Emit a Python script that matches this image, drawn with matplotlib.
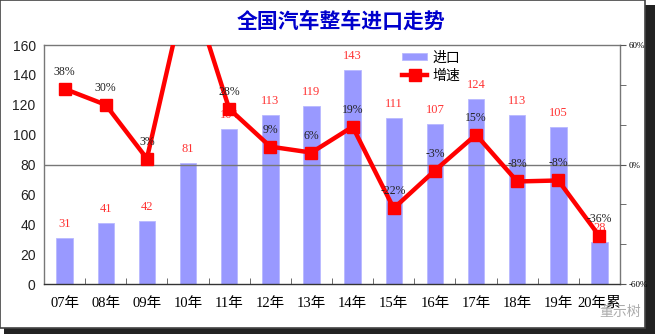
import matplotlib
matplotlib.use("Agg")
import matplotlib.pyplot as plt
from matplotlib.patches import Rectangle
import numpy as np

categories = ["07年", "08年", "09年", "10年", "11年", "12年", "13年", "14年",
              "15年", "16年", "17年", "18年", "19年", "20年累"]
imports = [31, 41, 42, 81, 104, 113, 119, 143, 111, 107, 124, 113, 105, 28]
growth = [38, 30, 3, 93, 28, 9, 6, 19, -22, -3, 15, -8.5, -8, -36]
growth_labels = ["38%", "30%", "3%", "93%", "28%", "9%", "6%", "19%", "-22%",
                 "-3%", "15%", "-8%", "-8%", "-36%"]
title = "全国汽车整车进口走势"

CJK = ["Noto Sans CJK SC", "DejaVu Sans"]
SERIF = ["Liberation Serif", "Noto Sans CJK SC"]
plt.rcParams["font.family"] = CJK

fig = plt.figure(figsize=(6.55, 3.34), dpi=100)
# frame with shadow
fig.patches.append(Rectangle((0.006, 0.0), 0.994, 0.985, transform=fig.transFigure,
                             facecolor="#222222", edgecolor="none", zorder=-3))
fig.patches.append(Rectangle((0.0, 0.018), 0.985, 0.982, transform=fig.transFigure,
                             facecolor="white", edgecolor="#444444", linewidth=1.2, zorder=-2))

ax = fig.add_axes([0.0672, 0.1497, 0.8794, 0.7153])
ax.set_facecolor("none")
x = np.arange(len(categories))
ax.bar(x, imports, width=0.4, color="#9999FF", edgecolor="#B8B8FF", linewidth=0.6,
       label="进口", zorder=2)
ax.set_xlim(-0.5, len(categories) - 0.5)
ax.set_ylim(0, 160)
ax.set_yticks(range(0, 161, 20))
ax.tick_params(axis="y", labelsize=10, length=0, pad=6)
for t in ax.get_yticklabels():
    t.set_fontfamily(["Liberation Sans", "DejaVu Sans"])
    t.set_color("#222222")
ax.set_xticks(x)
ax.set_xticklabels(categories, fontfamily=SERIF, fontsize=10.5)
ax.tick_params(axis="x", length=0, pad=9)
ax.set_xticks(np.arange(-0.5, len(categories), 1), minor=True)
ax.tick_params(axis="x", which="minor", length=4, direction="in", color="#555555")
for s in ax.spines.values():
    s.set_color("#777777")
    s.set_linewidth(1.0)
ax.spines["bottom"].set_color("#333333")

for xi, v in zip(x, imports):
    ax.annotate(str(v), (xi, v), xytext=(0, 14), textcoords="offset pixels",
                ha="center", va="center", color="#FF3333", fontsize=9,
                fontfamily=SERIF, annotation_clip=True)

ax2 = ax.twinx()
ax2.set_ylim(-60, 60)
ax2.axhline(0, color="#777777", linewidth=1.0, zorder=1)
ax2.plot(x, growth, color="#FF0000", linewidth=3.2, marker="s", markersize=8.5,
         label="增速", zorder=3, clip_on=True)
ax2.set_yticks([-60, 0, 60])
ax2.set_yticklabels(["-60%", "0%", "60%"], fontsize=6.5,
                    fontfamily=["Liberation Serif", "DejaVu Sans"])
ax2.set_yticks(np.arange(-60, 61, 20), minor=True)
ax2.tick_params(axis="y", which="both", length=4, direction="out", color="#555555", pad=2)
for s in ax2.spines.values():
    s.set_visible(False)

for xi, g, lab in zip(x, growth, growth_labels):
    if -60 <= g <= 60:
        ax2.annotate(lab, (xi, g), xytext=(0, 17), textcoords="offset pixels",
                     ha="center", va="center", color="#222222", fontsize=8.5,
                     fontfamily=["Liberation Serif", "DejaVu Sans"])

h1, l1 = ax.get_legend_handles_labels()
h2, l2 = ax2.get_legend_handles_labels()
leg = ax2.legend(h1 + h2, l1 + l2, loc="upper left", bbox_to_anchor=(0.6, 1.03),
                 frameon=False, fontsize=10, handlelength=1.8, handleheight=0.5,
                 labelspacing=0.3, handletextpad=0.4)

fig.text(0.52, 0.935, title, ha="center", va="center", fontsize=15,
         fontweight="bold", color="#0000CC", fontfamily=CJK)
fig.text(0.915, 0.065, "董示树", ha="left", va="center", fontsize=10,
         color="#888888", alpha=0.7, fontfamily=CJK)

fig.savefig("out.png", dpi=100)
